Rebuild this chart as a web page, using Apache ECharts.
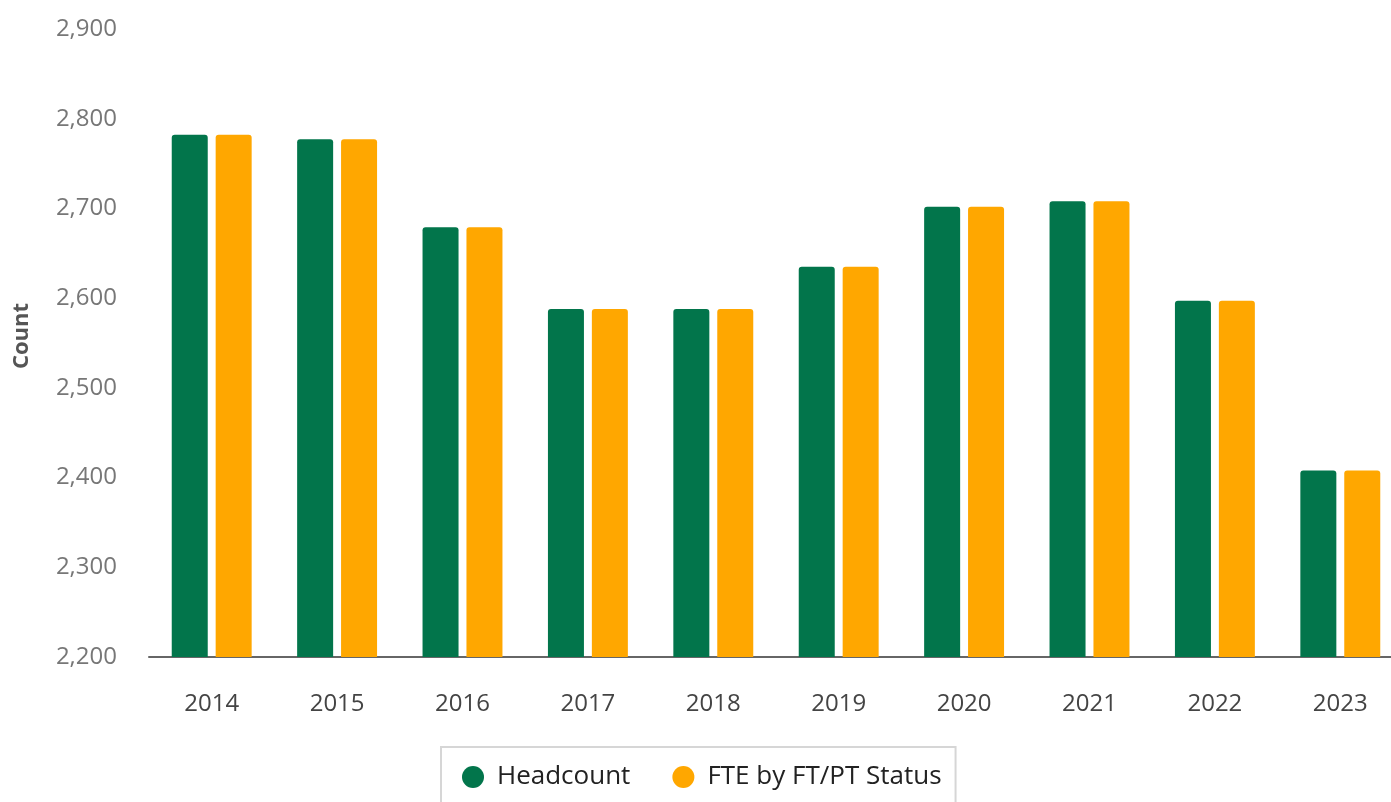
<!DOCTYPE html>
<html>
<head>
<meta charset="utf-8">
<script src="https://cdn.jsdelivr.net/npm/echarts@6/dist/echarts.min.js"></script>
<style>
  html, body { margin: 0; padding: 0; background: #fff; overflow: hidden; }
  /* the x axis runs a little past the right edge of the picture */
  #chart { width: 1403px; height: 802px; }
</style>
</head>
<body>
<div id="chart"></div>
<script>
// 年份
const years = ['2014', '2015', '2016', '2017', '2018', '2019', '2020', '2021', '2022', '2023']
// 人数
const headcount = [2782, 2777, 2679, 2588, 2588, 2635, 2702, 2708, 2597, 2408]
// FTE
const fte = [2782, 2777, 2679, 2588, 2588, 2635, 2702, 2708, 2597, 2408]

const chart = echarts.init(document.getElementById('chart'))
const font = '"Open Sans", sans-serif'

chart.setOption({
  textStyle: { fontFamily: font },
  grid: {
    left: 149,
    right: 0,
    top: 29,
    bottom: 145
  },
  legend: {
    left: 441,
    top: 747,
    padding: [17, 14, 30, 21],
    borderColor: '#d6d6d6',
    borderWidth: 2,
    icon: 'circle',
    itemWidth: 22,
    itemHeight: 22,
    itemGap: 42,
    textStyle: {
      fontFamily: font,
      fontSize: 26,
      color: '#222',
      padding: [0, 0, 0, 8]
    },
    data: ['Headcount', 'FTE by FT/PT Status']
  },
  xAxis: {
    type: 'category',
    data: years,
    axisLine: { lineStyle: { color: '#666', width: 2 } },
    axisTick: { show: false },
    axisLabel: { fontSize: 24, color: '#444', margin: 35 }
  },
  yAxis: {
    type: 'value',
    min: 2200,
    max: 2900,
    interval: 100,
    name: 'Count',
    nameLocation: 'middle',
    nameGap: 116,
    nameTextStyle: { fontSize: 22, fontWeight: 'bold', color: '#555', padding: [0, 0, 0, 14] },
    splitLine: { show: false },
    axisLine: { show: false },
    axisTick: { show: false },
    axisLabel: {
      fontSize: 24,
      color: '#777',
      margin: 32,
      padding: [0, 0, 6, 0],
      formatter: v => v.toLocaleString('en-US')
    }
  },
  series: [
    {
      name: 'Headcount',
      type: 'bar',
      barWidth: 36,
      barGap: '22%',
      itemStyle: { color: '#02754b', borderRadius: [3, 3, 0, 0] },
      data: headcount
    },
    {
      name: 'FTE by FT/PT Status',
      type: 'bar',
      barWidth: 36,
      itemStyle: { color: '#ffa700', borderRadius: [3, 3, 0, 0] },
      data: fte
    }
  ]
})
</script>
</body>
</html>
